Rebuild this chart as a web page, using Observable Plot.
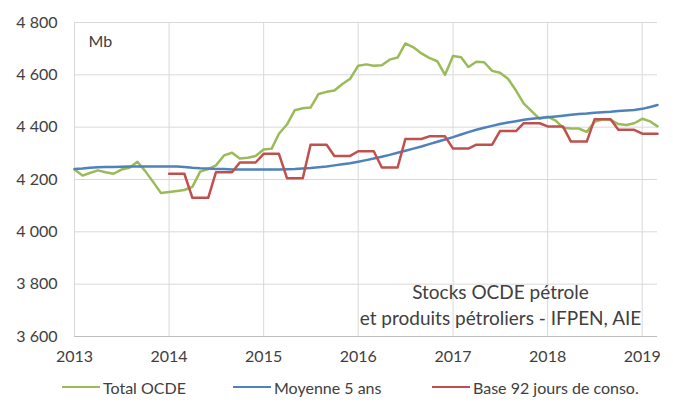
<!DOCTYPE html>
<html><head><meta charset="utf-8">
<script src="https://cdn.jsdelivr.net/npm/d3@7"></script>
<script src="https://cdn.jsdelivr.net/npm/@observablehq/plot@0.6"></script>
<style>
body{margin:0;background:#fff;font-family:Lato,sans-serif;}
#chart{position:relative;width:673px;height:406px;overflow:hidden;}
.legend{position:absolute;top:376px;left:0;width:673px;height:22px;font-size:16px;color:#404040;}
.item{position:absolute;top:0;display:flex;align-items:center;height:22px;white-space:nowrap;}
.sw{display:inline-block;width:38px;height:2.5px;margin-right:3px;}
</style></head><body><div id="chart"></div>
<script>
// Monthly data, starting January 2013 (Mb)
const seriesNames = ["Total OCDE", "Moyenne 5 ans", "Base 92 jours de conso."];
const seriesColors = ["#9BBB59", "#4F81BD", "#C0504D"];
const totalStart = "2013-01-01";
const totalOCDE = [
  4238,4215,4225,4235,4228,4222,4238,4245,4268,4232,4190,4148,
  4152,4156,4160,4172,4230,4240,4254,4292,4302,4280,4283,4290,
  4315,4318,4375,4410,4465,4472,4475,4527,4535,4540,4565,4585,
  4635,4640,4635,4637,4658,4666,4720,4705,4682,4665,4652,4600,
  4672,4667,4630,4650,4648,4615,4608,4585,4540,4490,4460,4432,
  4440,4425,4398,4395,4395,4382,4420,4430,4428,4412,4408,4415,
  4432,4422,4403
];
const moyenne5ans = [
  4240,4242,4245,4247,4248,4248,4249,4250,4250,4250,4250,4250,
  4250,4250,4248,4245,4243,4242,4240,4240,4238,4238,4238,4238,
  4238,4238,4238,4239,4240,4242,4244,4247,4250,4254,4258,4262,
  4268,4274,4280,4287,4294,4302,4310,4318,4326,4335,4344,4353,
  4362,4372,4381,4390,4398,4405,4412,4418,4423,4428,4432,4435,
  4438,4441,4444,4447,4450,4452,4455,4457,4459,4462,4464,4466,
  4470,4477,4485
];
const base92Start = "2014-01-01";
const base92 = [
  4222,4222,4222,4130,4130,4130,4228,4228,4228,4265,4265,4265,
  4298,4298,4298,4205,4205,4205,4333,4333,4333,4290,4290,4290,
  4308,4308,4308,4246,4246,4246,4355,4355,4355,4365,4365,4365,
  4318,4318,4318,4333,4333,4333,4385,4385,4385,4415,4415,4415,
  4403,4403,4403,4345,4345,4345,4430,4430,4430,4390,4390,4390,
  4375,4375,4375
];
const yTicks = [3600,3800,4000,4200,4400,4600,4800];
const xYears = ["2013","2014","2015","2016","2017","2018","2019"];
const unitLabel = "Mb";
const note = "Stocks OCDE pétrole\net produits pétroliers - IFPEN, AIE";

const toRows = (start, values, name) => {
  const s = new Date(start + "T00:00:00Z");
  return values.map((v, i) => ({date: d3.utcMonth.offset(s, i), value: v, series: name}));
};
const rows = [
  ...toRows(totalStart, totalOCDE, seriesNames[0]),
  ...toRows(totalStart, moyenne5ans, seriesNames[1]),
  ...toRows(base92Start, base92, seriesNames[2])
];
const yearDates = xYears.map(y => new Date(y + "-01-01T00:00:00Z"));
const xDomain = [new Date(totalStart + "T00:00:00Z"), d3.utcMonth.offset(new Date(totalStart + "T00:00:00Z"), totalOCDE.length - 1)];
const fmt = d => d3.format(",")(d).replace(/,/g, " ");

const plot = Plot.plot({
  width: 673, height: 366,
  marginLeft: 74, marginRight: 16, marginTop: 22, marginBottom: 30,
  style: {fontFamily: "Lato, sans-serif", fontSize: "16px", color: "#404040", background: "#fff"},
  x: {type: "utc", domain: xDomain, ticks: yearDates, tickFormat: d3.utcFormat("%Y"), tickSize: 0, tickPadding: 14, label: null},
  y: {domain: [3600, 4800], ticks: yTicks, tickFormat: fmt, tickSize: 0, tickPadding: 17, label: null},
  color: {domain: seriesNames, range: seriesColors},
  marks: [
    Plot.gridX(yearDates, {stroke: "#d9d9d9", strokeOpacity: 1}),
    Plot.gridY(yTicks, {stroke: "#d9d9d9", strokeOpacity: 1}),
    Plot.ruleX([xDomain[0]], {stroke: "#d9d9d9"}),
    Plot.ruleY([3600], {stroke: "#bfbfbf"}),
    Plot.text([unitLabel], {frameAnchor: "top-left", dx: 14, dy: 13, textAnchor: "start", fontSize: 16, fill: "#404040"}),
    Plot.text([note], {frameAnchor: "bottom-right", dx: -157, dy: -12, textAnchor: "middle", fontSize: 19, lineHeight: 1.32, fill: "#404040"}),
    ...seriesNames.map(n => Plot.lineY(rows.filter(r => r.series === n), {x: "date", y: "value", stroke: "series", strokeWidth: 2.5}))
  ]
});
const chart = document.getElementById("chart");
chart.appendChild(plot);

const legend = document.createElement("div");
legend.className = "legend";
const legendLeft = [62, 233, 432];
seriesNames.forEach((n, i) => {
  const it = document.createElement("div");
  it.className = "item";
  it.style.left = legendLeft[i] + "px";
  const sw = document.createElement("span");
  sw.className = "sw";
  sw.style.background = seriesColors[i];
  const t = document.createElement("span");
  t.textContent = n;
  it.appendChild(sw); it.appendChild(t);
  legend.appendChild(it);
});
chart.appendChild(legend);
</script></body></html>
